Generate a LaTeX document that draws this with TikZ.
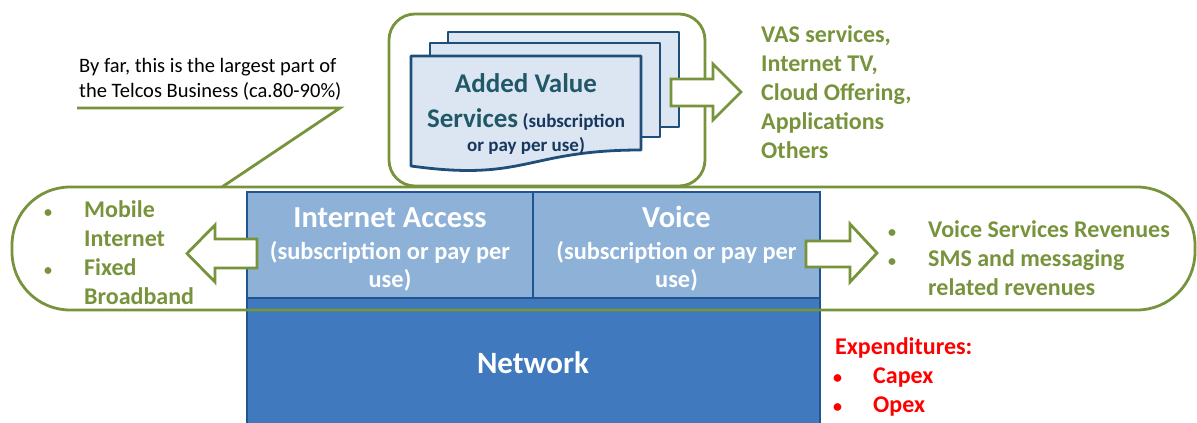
\documentclass[tikz,border=0pt]{standalone}
\usepackage{fontspec}
\setmainfont{Carlito}
\usepackage{xcolor}
\usepackage{tikz}
\usetikzlibrary{positioning}

\definecolor{vasgreen}{HTML}{77933C}
\definecolor{docfill}{HTML}{DCE6F2}
\definecolor{docline}{HTML}{1F4E79}
\definecolor{avsteal}{HTML}{215868}
\definecolor{subnavy}{HTML}{17375E}
\definecolor{accblue}{HTML}{8EB1D8}
\definecolor{netblue}{HTML}{4079BD}
\definecolor{layerline}{HTML}{1F5590}
\definecolor{costred}{HTML}{FF0000}

\begin{document}
\begin{tikzpicture}[x=1pt, y=-1pt,
    grp/.style={draw=vasgreen, line width=2.8pt},
    layer/.style={draw=layerline, line width=2.6pt, inner sep=0pt},
    doc/.style={draw=docline, fill=docfill, line width=2.8pt, line join=round},
    blockarr/.style={draw=vasgreen, fill=white, line width=2.8pt, line join=miter},
    head/.style={text=white, font=\fontsize{24.4}{28}\selectfont\bfseries, inner sep=0pt, anchor=base},
    greenlist/.style={text=vasgreen, font=\fontsize{24}{29}\selectfont\bfseries, inner sep=0pt, anchor=base west},
    dot/.style={font=\fontsize{16}{16}\selectfont},
]
\clip (0,0) rectangle (1197,423);

% added value services
\draw[grp, fill=white, rounded corners=26] (389,14) rectangle (705,186);
\draw[doc] (448,32) rectangle (679,127);
\draw[doc] (430,43) rectangle (660,137);
\draw[doc] (411,56) -- (641,56) -- (641,150) .. controls (526,150) and (526,182) .. (411,166) -- cycle;
\node[inner sep=0pt, anchor=base, text=subnavy, font=\fontsize{19}{24}\selectfont\bfseries] (avs) at (526,92)
  {\begin{tabular}[t]{@{}c@{}}{\fontsize{27}{27}\selectfont\color{avsteal}Added Value}\\[9pt]
   {\fontsize{27}{27}\selectfont\color{avsteal}Services} (subscription\\ or pay per use)\end{tabular}};
\draw[blockarr] (671,79) -- (713,79) -- (713,64) -- (741,92) -- (713,120) -- (713,106) -- (671,106) -- cycle;
\node[greenlist] (vaslist) at (761,42)
  {\begin{tabular}[t]{@{}l@{}}VAS services,\\ Internet TV,\\ Cloud Offering,\\ Applications\\ Others\end{tabular}};

% layers
\node[layer, fill=netblue, minimum width=573, minimum height=130] (network) at (533.5,363) {};
\node[layer, fill=accblue, minimum width=286, minimum height=106] (access) at (390,245) {};
\node[layer, fill=accblue, minimum width=287, minimum height=106] (voice) at (676.5,245) {};
\node[head] (accesstxt) at (390,227)
  {\begin{tabular}[t]{@{}c@{}}{\fontsize{30.5}{30}\selectfont Internet Access}\\[4pt] (subscription or pay per\\ use)\end{tabular}};
\node[head] (voicetxt) at (676.5,227)
  {\begin{tabular}[t]{@{}c@{}}{\fontsize{30.5}{30}\selectfont Voice}\\[4pt] (subscription or pay per\\ use)\end{tabular}};
\node[text=white, font=\fontsize{31}{36}\selectfont\bfseries, inner sep=0pt, anchor=base] (nettxt) at (533,373) {Network};

% revenue band
\draw[grp, rounded corners=58] (12,187) rectangle (1195,310);
\draw[blockarr] (257,239) -- (215,239) -- (215,225) -- (187,253.5) -- (215,282) -- (215,268) -- (257,268) -- cycle;
\draw[blockarr] (806,241) -- (850,241) -- (850,224) -- (877,253) -- (850,282) -- (850,267) -- (806,267) -- cycle;
\node[greenlist] (accesslist) at (84,217)
  {\begin{tabular}[t]{@{}l@{}}\llap{{\fontsize{16}{16}\selectfont•}\hspace{32pt}}Mobile\\ Internet\\
   \llap{{\fontsize{16}{16}\selectfont•}\hspace{32pt}}Fixed\\ Broadband\end{tabular}};
\node[greenlist] (voicelist) at (928,237)
  {\begin{tabular}[t]{@{}l@{}}\llap{{\fontsize{16}{16}\selectfont•}\hspace{32pt}}Voice Services Revenues\\
   \llap{{\fontsize{16}{16}\selectfont•}\hspace{32pt}}SMS and messaging\\ related revenues\end{tabular}};
\node[greenlist, text=costred] (costs) at (835,354)
  {\begin{tabular}[t]{@{}l@{}}Expenditures:\\ \hspace{38pt}\llap{{\fontsize{18}{18}\selectfont•}\hspace{31pt}}Capex\\
   \hspace{38pt}\llap{{\fontsize{18}{18}\selectfont•}\hspace{31pt}}Opex\end{tabular}};

% callout
\node[inner sep=0pt, anchor=base west, font=\fontsize{20.5}{25}\selectfont] (callout) at (79,72)
  {\begin{tabular}[t]{@{}l@{}}By far, this is the largest part of\\ the Telcos Business (ca.80-90\%)\end{tabular}};
\coordinate (c0) at (77,108);
\coordinate (c1) at (340,108);
\coordinate (c2) at (222,187);
\draw[vasgreen, line width=2.8pt] (c0) -- (c1) -- (c2);
\end{tikzpicture}
\end{document}
